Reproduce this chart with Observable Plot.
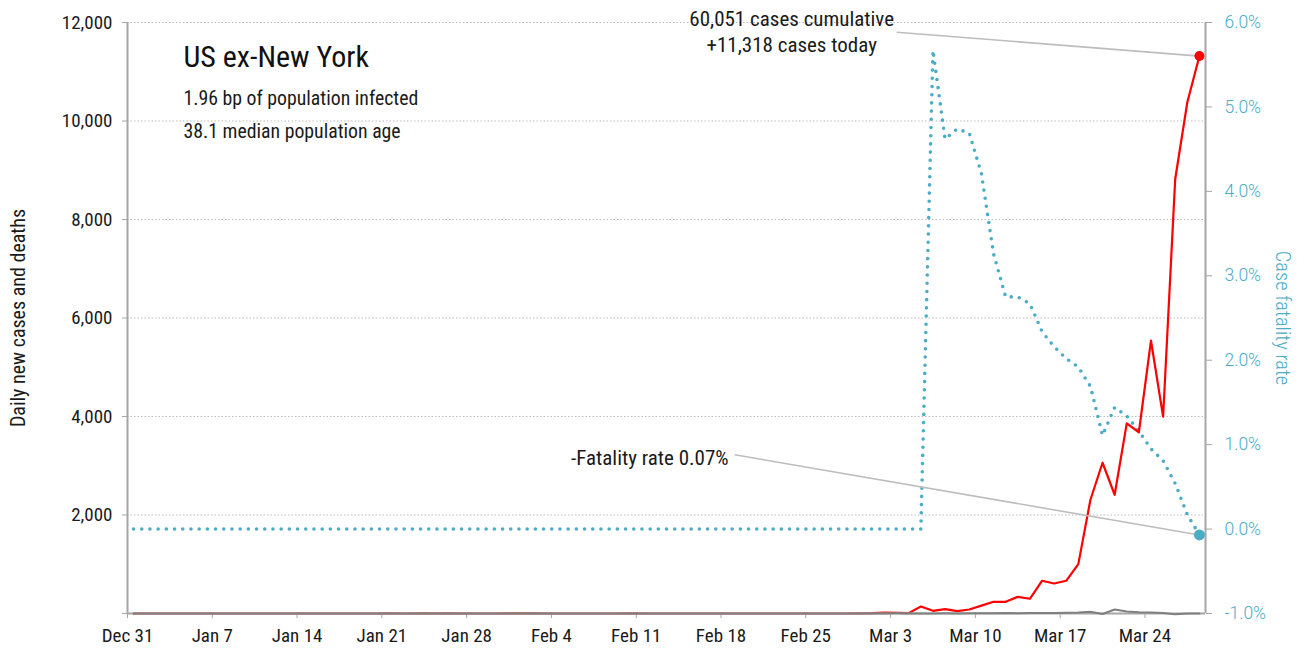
<!DOCTYPE html>
<html>
<head>
<meta charset="utf-8">
<script src="https://cdn.jsdelivr.net/npm/d3@7"></script>
<script src="https://cdn.jsdelivr.net/npm/@observablehq/plot@0.6"></script>
<style>
  html, body { margin: 0; padding: 0; background: #fff; }
</style>
</head>
<body>
<div id="chart"></div>
<script>
// ---- categories: one row per day, Dec 31 2019 .. Mar 28 2020 ----
const firstDay = "2019-12-31";
const lastDay = "2020-03-28";

// ---- daily new cases (red), one value per day ----
const cases = [
  0,0,0,0,0,0,0,0,0,0,
  0,0,0,0,0,0,0,0,0,0,
  0,1,0,0,1,0,2,0,0,0,
  0,1,1,1,0,0,0,0,0,0,
  0,1,0,0,0,0,0,0,0,0,
  0,0,0,0,0,0,0,0,0,0,
  3,6,20,14,8,142,55,89,49,81,
  160,238,238,339,299,664,610,664,1003,2310,
  3061,2411,3860,3680,5539,3996,8823,10380,11318
];

// ---- daily new deaths (grey) ----
const deaths = [
  0,0,0,0,0,0,0,0,0,0,
  0,0,0,0,0,0,0,0,0,0,
  0,0,0,0,0,0,0,0,0,0,
  0,0,0,0,0,0,0,0,0,0,
  0,0,0,0,0,0,0,0,0,0,
  0,0,0,0,0,0,0,0,0,0,
  1,1,2,3,0,2,1,3,2,4,
  5,3,8,6,10,12,10,15,22,35,
  -10,80,40,25,18,10,-15,0,0
];

// ---- case fatality rate, % (blue dotted, right axis) ----
const fatalityRate = [
  0,0,0,0,0,0,0,0,0,0,
  0,0,0,0,0,0,0,0,0,0,
  0,0,0,0,0,0,0,0,0,0,
  0,0,0,0,0,0,0,0,0,0,
  0,0,0,0,0,0,0,0,0,0,
  0,0,0,0,0,0,0,0,0,0,
  0,0,0,0,0,0,5.67,4.62,4.74,4.69,
  4.21,3.26,2.75,2.75,2.67,2.34,2.16,2.02,1.92,1.69,
  1.11,1.44,1.34,1.16,0.95,0.81,0.54,0.17,-0.07
];

// ---- axes ----
const leftTicks = [0, 2000, 4000, 6000, 8000, 10000, 12000];
const rateTicks = [-1, 0, 1, 2, 3, 4, 5, 6];

// ---- annotations ----
const titleLines = ["US ex-New York", "1.96 bp of population infected", "38.1 median population age"];
const noteLabels = ["60,051 cases cumulative\n+11,318 cases today", "-Fatality rate 0.07%"];
const noteLabelDates = ["2020-02-23T20:00Z", "2020-02-18T15:00Z"];
const noteLabelValues = [11840, 3142];
const noteLineStartDates = ["2020-03-03T12:00Z", "2020-02-19T03:00Z"];
const noteLineStartValues = [11802, 3224];

// ---------------------------------------------------------------
const yMax = leftTicks[leftTicks.length - 1];
const rMin = rateTicks[0], rMax = rateTicks[rateTicks.length - 1];
const toLeft = r => (r - rMin) / (rMax - rMin) * yMax;
const fromLeft = v => v / yMax * (rMax - rMin) + rMin;

const xStart = new Date(firstDay + "T00:00Z");
const xEnd = d3.utcDay.offset(new Date(lastDay + "T00:00Z"), 1);
const days = d3.utcDay.range(xStart, xEnd);
const rows = days.map((d, i) => ({
  date: d3.utcHour.offset(d, 12),
  cases: cases[i],
  deaths: deaths[i],
  rateY: toLeft(fatalityRate[i])
}));
const last = rows[rows.length - 1];
const weekTicks = d3.utcTuesday.range(xStart, xEnd);

const notes = noteLabels.map((t, i) => ({
  text: t,
  x: new Date(noteLabelDates[i]),
  y: noteLabelValues[i],
  x1: new Date(noteLineStartDates[i]),
  y1: noteLineStartValues[i],
  x2: last.date,
  y2: i === 0 ? last.cases : last.rateY
}));

const narrow = "'Roboto Condensed', Roboto, sans-serif";
const blue = "#4bacc6";
const axisGrey = "#a6a6a6";
const ink = "#1a1a1a";

const chart = Plot.plot({
  width: 1306,
  height: 653,
  marginLeft: 127,
  marginRight: 101,
  marginTop: 22,
  marginBottom: 40,
  style: { fontFamily: narrow, fontSize: "19px", fontWeight: 400, color: ink, background: "#fff", overflow: "visible" },
  x: { type: "utc", domain: [xStart, xEnd] },
  y: { domain: [0, yMax] },
  marks: [
    Plot.gridY(leftTicks.filter(d => d > 0), { stroke: "#bcbcbc", strokeOpacity: 1, strokeWidth: 1, strokeDasharray: "1.5 2" }),
    Plot.axisY(leftTicks, {
      anchor: "left", tickSize: 5, tickPadding: 10, label: null,
      tickFormat: d => d === 0 ? "" : d3.format(",")(d),
      stroke: axisGrey, fill: ink, fontSize: 19, fontFamily: narrow
    }),
    Plot.axisY(rateTicks.map(toLeft), {
      anchor: "right", tickSize: 6, tickPadding: 13, label: null,
      tickFormat: d => fromLeft(d).toFixed(1) + "%",
      stroke: axisGrey, fill: blue, fontSize: 17.5, fontWeight: 300, fontFamily: "Roboto, sans-serif"
    }),
    Plot.axisX(weekTicks, {
      anchor: "bottom", tickSize: 5, tickPadding: 10, label: null,
      tickFormat: d3.utcFormat("%b %-d"),
      stroke: axisGrey, fill: ink, fontSize: 19, fontFamily: narrow
    }),
    Plot.ruleX([xStart, xEnd], { stroke: axisGrey, strokeWidth: 2 }),
    Plot.lineY(rows, { x: "date", y: "rateY", stroke: blue, strokeWidth: 3.6, strokeDasharray: "0 8.2", strokeLinecap: "round" }),
    Plot.lineY(rows, { x: "date", y: "cases", stroke: "#ff0000", strokeWidth: 2.2 }),
    Plot.ruleY([0], { stroke: axisGrey, strokeWidth: 2 }),
    Plot.lineY(rows, { x: "date", y: "deaths", stroke: "#808080", strokeWidth: 2 }),
    Plot.link(notes, { x1: "x1", y1: "y1", x2: "x2", y2: "y2", stroke: "#bdbdbd", strokeWidth: 1.6 }),
    Plot.dot([last], { x: "date", y: "cases", r: 5, fill: "#ff0000" }),
    Plot.dot([last], { x: "date", y: "rateY", r: 5.5, fill: blue }),
    Plot.text([notes[0]], { x: "x", y: "y", text: "text", textAnchor: "middle", lineAnchor: "middle", lineHeight: 1.28, fontSize: 21, fill: ink }),
    Plot.text([notes[1]], { x: "x", y: "y", text: "text", textAnchor: "end", lineAnchor: "middle", fontSize: 21, fill: ink }),
    Plot.text([titleLines[0]], { frameAnchor: "top-left", dx: 56, dy: 35, lineAnchor: "middle", textAnchor: "start", fontSize: 30, fill: "#111" }),
    Plot.text([titleLines[1]], { frameAnchor: "top-left", dx: 56, dy: 76, lineAnchor: "middle", textAnchor: "start", fontSize: 19.8, fill: ink }),
    Plot.text([titleLines[2]], { frameAnchor: "top-left", dx: 56, dy: 109, lineAnchor: "middle", textAnchor: "start", fontSize: 19.8, fill: ink }),
    Plot.text(["Daily new cases and deaths"], { frameAnchor: "left", rotate: -90, dx: -109, textAnchor: "middle", lineAnchor: "middle", fontSize: 20, fill: ink }),
    Plot.text(["Case fatality rate"], { frameAnchor: "right", rotate: 90, dx: 77, textAnchor: "middle", lineAnchor: "middle", fontSize: 20.5, fontWeight: 300, fill: blue })
  ]
});
document.getElementById("chart").append(chart);
</script>
</body>
</html>
